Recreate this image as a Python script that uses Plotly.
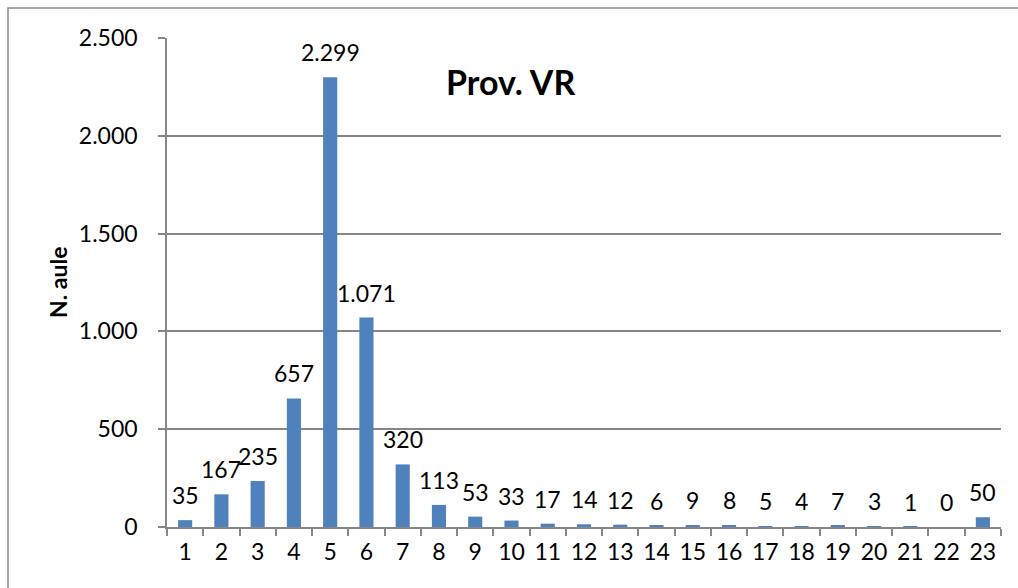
import plotly.graph_objects as go

categories = [str(i) for i in range(1, 24)]
values = [35, 167, 235, 657, 2299, 1071, 320, 113, 53, 33, 17, 14, 12, 6, 9, 8, 5, 4, 7, 3, 1, 0, 50]
y_ticks = [0, 500, 1000, 1500, 2000, 2500]
title_text = "Prov. VR"
y_title = "N. aule"

FONT = "Lato"
GRAY = "#878787"
W, H = 1018, 588
L, R, T, B = 167, 17, 38, 61
pw, ph = W - L - R, H - T - B


def px_x(x):
    return (x - L) / pw


def px_y(y):
    return 1 - (y - T) / ph


def fmt(v):
    return f"{v:,}".replace(",", ".")


fig = go.Figure()
fig.add_trace(go.Bar(x=categories, y=values, marker=dict(color="#4F81BD", line=dict(width=0)),
                     hoverinfo="x+y"))

annotations = []
for i, v in enumerate(values):
    annotations.append(dict(x=i, y=v, xref="x", yref="y", text=fmt(v), showarrow=False,
                            yanchor="middle", yshift=25,
                            font=dict(family=FONT, size=23, color="#000000")))
annotations.append(dict(x=px_x(510), y=px_y(82), xref="paper", yref="paper", text=f"<b>{title_text}</b>",
                        showarrow=False, xanchor="center", yanchor="middle",
                        font=dict(family=FONT, size=34, color="#000000")))
annotations.append(dict(x=px_x(58), y=px_y(283), xref="paper", yref="paper", text=f"<b>{y_title}</b>",
                        showarrow=False, textangle=-90, xanchor="center", yanchor="middle",
                        font=dict(family=FONT, size=23, color="#000000")))

fig.update_layout(
    width=W, height=H,
    margin=dict(l=L, r=R, t=T, b=B, autoexpand=False),
    paper_bgcolor="white", plot_bgcolor="white",
    separators=",.",
    bargap=0.61,
    showlegend=False,
    annotations=annotations,
    font=dict(family=FONT, size=23, color="#000000"),
    shapes=[dict(type="rect", xref="paper", yref="paper",
                 x0=px_x(8), x1=px_x(W + 20), y0=px_y(H + 20), y1=px_y(8),
                 line=dict(color="#8c8c8c", width=1.5), fillcolor="rgba(0,0,0,0)", layer="below")],
)
fig.update_xaxes(type="category", showgrid=False, showline=True, linecolor=GRAY, linewidth=1.5,
                 ticks="outside", tickson="boundaries", ticklen=7, tickcolor=GRAY, tickwidth=1.5,
                 tickangle=0, tickfont=dict(family=FONT, size=23), zeroline=False, ticklabelstandoff=4)
fig.update_yaxes(range=[0, 2500], tickvals=y_ticks, tickformat=",", showgrid=True, gridcolor=GRAY,
                 gridwidth=1.5, showline=True, linecolor=GRAY, linewidth=1.5, ticks="outside",
                 ticklen=7, tickcolor=GRAY, tickwidth=1.5, zeroline=False,
                 tickfont=dict(family=FONT, size=23), ticklabelstandoff=16)

fig.write_html("out.html", config={"displayModeBar": False},
               post_script="document.body.style.margin='0';document.body.style.overflow='hidden';")
